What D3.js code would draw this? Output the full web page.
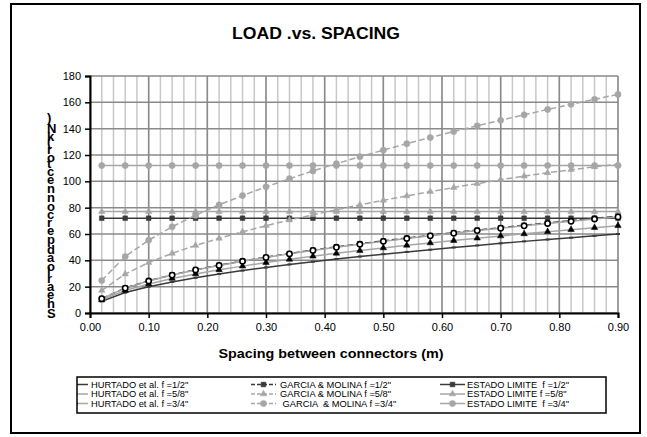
<!DOCTYPE html>
<html><head><meta charset="utf-8">
<script src="https://cdn.jsdelivr.net/npm/d3@7"></script>
<style>body{margin:0;background:#fff}svg{display:block;font-family:"Liberation Sans",Arial,sans-serif}</style>
</head><body><svg id="c" width="647" height="437"></svg>
<script>
const xs = [0.02,0.06,0.10,0.14,0.18,0.22,0.26,0.30,0.34,0.38,0.42,0.46,0.50,0.54,0.58,0.62,0.66,0.70,0.74,0.78,0.82,0.86,0.90];
const hurtado12 = [8.9,15.5,20.0,23.6,26.8,29.6,32.2,34.6,36.9,39.0,41.0,42.9,44.7,46.4,48.1,49.8,51.3,52.9,54.4,55.8,57.2,58.6,60.0];
const hurtado58 = [9.9,17.1,22.1,26.2,29.7,32.8,35.6,38.3,40.8,43.1,45.3,47.4,49.4,51.4,53.2,55.0,56.8,58.5,60.1,61.7,63.3,64.8,66.3];
const hurtado34 = [10.9,18.9,24.3,28.8,32.7,36.1,39.3,42.2,44.9,47.5,49.9,52.2,54.4,56.6,58.6,60.6,62.6,64.4,66.2,68.0,69.7,71.4,73.0];
const garcia12 = [11.0,19.0,24.5,29.0,32.9,36.3,39.5,42.4,45.2,47.8,50.2,52.6,54.8,56.9,59.0,61.0,63.0,64.8,66.7,68.4,70.2,71.9,73.5];
const garcia58 = [17.1,29.6,38.3,45.3,51.3,56.7,61.7,66.3,70.6,74.6,78.4,82.1,85.6,88.9,92.2,95.3,98.3,101.2,104.0,106.5,108.8,111.0,113.0];
const garcia34 = [24.7,42.9,55.3,65.5,74.3,82.1,89.2,95.8,102.0,107.9,113.4,118.7,123.7,128.6,133.3,137.8,142.2,146.4,150.5,154.6,158.5,162.3,166.0];
const estado12 = [72,72,72,72,72,72,72,72,72,72,72,72,72,72,72,72,72,72,72,72,72,72,72];
const estado58 = [77,77,77,77,77,77,77,77,77,77,77,77,77,77,77,77,77,77,77,77,77,77,77];
const estado34 = [112,112,112,112,112,112,112,112,112,112,112,112,112,112,112,112,112,112,112,112,112,112,112];
const xTicks = [0,0.1,0.2,0.3,0.4,0.5,0.6,0.7,0.8,0.9];
const yTicks = [0,20,40,60,80,100,120,140,160,180];
const seriesNames = ['HURTADO et al. f =1/2"','HURTADO et al. f =5/8"','HURTADO et al. f =3/4"',
  'GARCIA & MOLINA f =1/2"','GARCIA & MOLINA f =5/8"',' GARCIA  & MOLINA f =3/4"',
  'ESTADO LIMITE  f =1/2"','ESTADO LIMITE f =5/8"','ESTADO LIMITE  f =3/4"'];
const title = 'LOAD .vs. SPACING';
const xTitle = 'Spacing between connectors (m)';
const yTitle = 'Shear load per connector (kN)';

const DARK = '#3a3a3a', LIGHT = '#a6a6a6';
const series = [
  {name:seriesNames[0], v:hurtado12, color:DARK, dash:null, marker:'bar', mfill:DARK, mstroke:DARK},
  {name:seriesNames[1], v:hurtado58, color:LIGHT, dash:null, marker:'tri', mfill:'#000', mstroke:'#000'},
  {name:seriesNames[2], v:hurtado34, color:LIGHT, dash:null, marker:'ocircle', mfill:'#fff', mstroke:'#000'},
  {name:seriesNames[3], v:garcia12, color:DARK, dash:'6,3', marker:'sq', mfill:DARK, mstroke:DARK},
  {name:seriesNames[4], v:garcia58, color:LIGHT, dash:'6,3', marker:'tri', mfill:LIGHT, mstroke:LIGHT},
  {name:seriesNames[5], v:garcia34, color:LIGHT, dash:'6,3', marker:'circle', mfill:LIGHT, mstroke:LIGHT},
  {name:seriesNames[6], v:estado12, color:DARK, dash:null, marker:'sq', mfill:DARK, mstroke:DARK},
  {name:seriesNames[7], v:estado58, color:LIGHT, dash:null, marker:'tri', mfill:LIGHT, mstroke:LIGHT},
  {name:seriesNames[8], v:estado34, color:LIGHT, dash:null, marker:'circle', mfill:LIGHT, mstroke:LIGHT}
];

const svg = d3.select('#c');
svg.append('rect').attr('x',0).attr('y',0).attr('width',647).attr('height',437).attr('fill','#fff');
svg.append('rect').attr('x',11).attr('y',4).attr('width',629).attr('height',429)
  .attr('fill','none').attr('stroke','#000').attr('stroke-width',2);

const x = d3.scaleLinear().domain([0,0.9]).range([90,618]);
const y = d3.scaleLinear().domain([0,180]).range([313,76]);

// grid
const minor = d3.range(0,46).map(i=>i*0.02).filter(v=>v<=0.9001);
svg.append('g').selectAll('line').data(minor).join('line')
  .attr('x1',d=>x(d)).attr('x2',d=>x(d)).attr('y1',y(0)).attr('y2',y(180))
  .attr('stroke','#c8c8c8').attr('stroke-width',1.5);
svg.append('g').selectAll('line').data(xTicks).join('line')
  .attr('x1',d=>x(d)).attr('x2',d=>x(d)).attr('y1',y(0)).attr('y2',y(180))
  .attr('stroke','#8a8a8a').attr('stroke-width',1.5);
svg.append('g').selectAll('line').data(yTicks).join('line')
  .attr('x1',x(0)).attr('x2',x(0.9)).attr('y1',d=>y(d)).attr('y2',d=>y(d))
  .attr('stroke','#8a8a8a').attr('stroke-width',1.5);

// series
const line = d3.line().x((d,i)=>x(xs[i])).y(d=>y(d));
const sym = {
  tri: d3.symbol().type(d3.symbolTriangle).size(18),
  sq: d3.symbol().type(d3.symbolSquare).size(22),
  circle: d3.symbol().type(d3.symbolCircle).size(30),
  ocircle: d3.symbol().type(d3.symbolCircle).size(22)
};
function drawMarker(g, s, cx, cy){
  if (s.marker==='bar'){
    g.append('rect').attr('x',cx-2).attr('y',cy-1).attr('width',4).attr('height',2).attr('fill',s.mfill);
  } else {
    g.append('path').attr('d',sym[s.marker]()).attr('transform',`translate(${cx},${cy})`)
      .attr('fill',s.mfill).attr('stroke',s.mstroke).attr('stroke-width',s.marker==='ocircle'?1.6:0.5);
  }
}
const order = [7,8,6,5,4,0,1,3,2];
order.forEach(k=>{
  const s = series[k];
  const g = svg.append('g');
  g.append('path').datum(s.v).attr('d',line).attr('fill','none')
    .attr('stroke',s.color).attr('stroke-width',1.5).attr('stroke-dasharray',s.dash);
  s.v.forEach((v,i)=>drawMarker(g,s,x(xs[i]),y(v)));
});

// axes
const xAxis = svg.append('g').attr('transform',`translate(0,${y(0)})`)
  .call(d3.axisBottom(x).tickValues(xTicks).tickFormat(d3.format('.2f')).tickSize(5).tickPadding(5));
const yAxis = svg.append('g').attr('transform',`translate(${x(0)},0)`)
  .call(d3.axisLeft(y).tickValues(yTicks).tickSize(5).tickPadding(4));
[xAxis,yAxis].forEach(a=>{
  a.select('.domain').attr('stroke','#000').attr('stroke-width',2);
  a.selectAll('.tick line').attr('stroke','#000').attr('stroke-width',1.5);
  a.selectAll('.tick text').attr('font-family','"Liberation Sans",Arial,sans-serif').attr('font-size',11).attr('fill','#000');
});

// titles
svg.append('text').attr('x',316).attr('y',39).attr('text-anchor','middle')
  .attr('font-size',16).attr('font-weight','bold')
  .attr('textLength',168).attr('lengthAdjust','spacingAndGlyphs').text(title);
svg.append('text').attr('x',331).attr('y',358).attr('text-anchor','middle')
  .attr('font-size',13.5).attr('font-weight','bold')
  .attr('textLength',225).attr('lengthAdjust','spacingAndGlyphs').text(xTitle);
// y title: one text, read bottom-to-top with upright stacked glyphs
svg.append('text')
  .attr('transform','translate(47,318) rotate(-90)')
  .attr('x',0).attr('y',0)
  .attr('rotate','90')
  .attr('font-size',13).attr('font-weight','bold')
  .style('word-spacing','-3.5px')
  .attr('textLength',200).attr('lengthAdjust','spacing')
  .text(yTitle);

// legend
const lx0 = 77, ly0 = 377, lw = 529, lh = 36;
svg.append('clipPath').attr('id','lc').append('rect').attr('x',lx0).attr('y',ly0).attr('width',lw).attr('height',lh);
const lg = svg.append('g').attr('clip-path','url(#lc)');
svg.append('rect').attr('x',lx0).attr('y',ly0).attr('width',lw).attr('height',lh)
  .attr('fill','none').attr('stroke','#000').attr('stroke-width',1.5);
const cols = [{x1:60,x2:88,tx:91},{x1:251,x2:276,tx:280},{x1:440,x2:465,tx:467}];
const rows = [384.5,394,403.5];
series.forEach((s,k)=>{
  const c = cols[Math.floor(k/3)], ry = rows[k%3];
  lg.append('line').attr('x1',c.x1).attr('x2',c.x2).attr('y1',ry).attr('y2',ry)
    .attr('stroke',s.color).attr('stroke-width',1.5).attr('stroke-dasharray',s.dash?'4,2':null);
  drawMarker(lg,s,(c.x1+c.x2)/2,ry);
  lg.append('text').attr('x',c.tx).attr('y',ry+3.3).attr('font-size',9.3).attr('fill','#000')
    .attr('xml:space','preserve').style('white-space','pre').text(s.name);
});
</script></body></html>
